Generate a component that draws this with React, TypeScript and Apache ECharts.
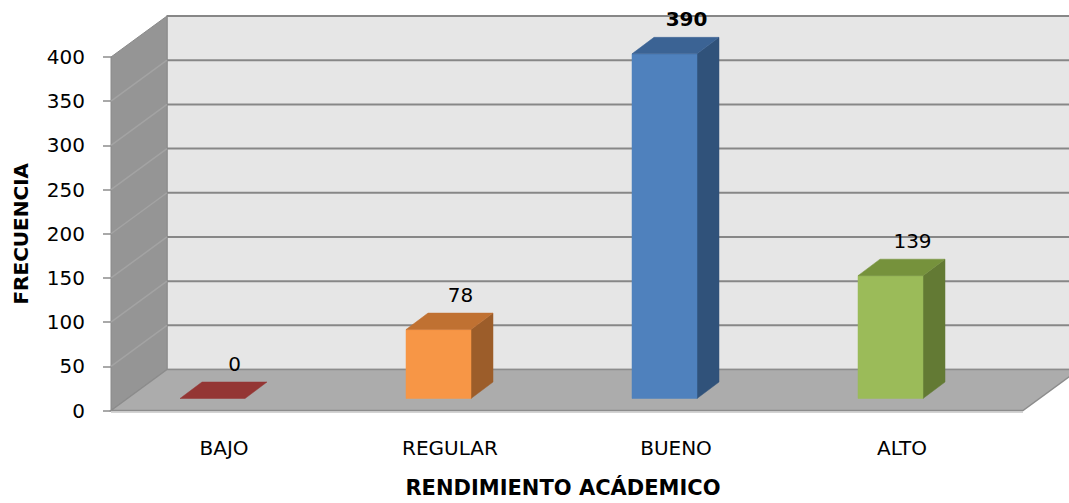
import React, { useEffect, useRef } from "react";
import * as echarts from "echarts";

const categories = ["BAJO", "REGULAR", "BUENO", "ALTO"];
const values = [0, 78, 390, 139];
const yTicks = [0, 50, 100, 150, 200, 250, 300, 350, 400];
const xTitle = "RENDIMIENTO ACÁDEMICO";
const yTitle = "FRECUENCIA";

const frontColors = ["#C0504D", "#F79646", "#4F81BD", "#9BBB59"];
const topColors = ["#943634", "#C07132", "#3B6394", "#76923C"];
const sideColors = ["#7A2B2A", "#9C5D2A", "#30527A", "#637A34"];
const boldLabel = [false, false, true, false];

const FONT = "DejaVu Sans";
const DX = 56;
const DY = -41;
const BAR_DX = 22;
const BAR_DY = -16.5;
const BAR_W = 65;
const BAR_SHIFT_X = -11.5;
const BAR_SHIFT_Y = -12;

export default function App() {
  const ref = useRef<HTMLDivElement>(null);
  useEffect(() => {
    if (!ref.current) return;
    const chart = echarts.init(ref.current, undefined, { renderer: "svg" });

    const roomRender = (params: any, api: any) => {
      const cs = params.coordSys;
      const left = cs.x;
      const top = cs.y;
      const right = cs.x + cs.width;
      const bottom = cs.y + cs.height;
      const W = api.getWidth();
      const children: any[] = [];
      children.push({
        type: "rect",
        shape: { x: left + DX, y: top + DY, width: W - left - DX + 10, height: bottom - top },
        style: { fill: "#E6E6E6", stroke: "#9A9A9A", lineWidth: 1.5 },
      });
      yTicks.forEach((v) => {
        if (v === 0) return;
        const y = api.coord([0, v])[1] + DY;
        children.push({
          type: "line",
          shape: { x1: left + DX, y1: y, x2: W + 5, y2: y },
          style: { stroke: "#878787", lineWidth: 2 },
        });
      });
      children.push({
        type: "polygon",
        shape: {
          points: [
            [left, bottom],
            [left, top],
            [left + DX, top + DY],
            [left + DX, bottom + DY],
          ],
        },
        style: { fill: "#959595", stroke: "#8A8A8A", lineWidth: 1 },
      });
      yTicks.forEach((v) => {
        if (v === 0 || v === 400) return;
        const y = api.coord([0, v])[1];
        children.push({
          type: "line",
          shape: { x1: left, y1: y, x2: left + DX, y2: y + DY },
          style: { stroke: "#A3A3A3", lineWidth: 1.5 },
        });
      });
      const fr = right + 8;
      children.push({
        type: "polygon",
        shape: {
          points: [
            [left, bottom],
            [left + DX, bottom + DY],
            [W + 60, bottom + DY],
            [fr + DX, bottom + DY],
            [fr, bottom],
          ],
        },
        style: { fill: "#ACACAC", stroke: "#8C8C8C", lineWidth: 1.5 },
      });
      children.push({
        type: "line",
        shape: { x1: left, y1: bottom + 1.5, x2: fr, y2: bottom + 1.5 },
        style: { stroke: "#C4C4C4", lineWidth: 1.5 },
      });
      return { type: "group", children };
    };

    const barRender = (params: any, api: any) => {
      const idx = api.value(0);
      const val = api.value(1);
      const p = api.coord([idx, val]);
      const b = api.coord([idx, 0]);
      const cx = p[0] + BAR_SHIFT_X;
      const x0 = cx - BAR_W / 2;
      const x1 = x0 + BAR_W;
      const yTop = p[1] + BAR_SHIFT_Y;
      const yBot = b[1] + BAR_SHIFT_Y;
      const i = params.dataIndex;
      const children: any[] = [];
      if (yBot - yTop > 0.5) {
        children.push({
          type: "polygon",
          shape: { points: [[x1, yTop], [x1 + BAR_DX, yTop + BAR_DY], [x1 + BAR_DX, yBot + BAR_DY], [x1, yBot]] },
          style: { fill: sideColors[i], stroke: sideColors[i], lineWidth: 0.5 },
        });
        children.push({
          type: "rect",
          shape: { x: x0, y: yTop, width: BAR_W, height: yBot - yTop },
          style: { fill: frontColors[i], stroke: frontColors[i], lineWidth: 0.5 },
        });
      }
      children.push({
        type: "polygon",
        shape: { points: [[x0, yTop], [x1, yTop], [x1 + BAR_DX, yTop + BAR_DY], [x0 + BAR_DX, yTop + BAR_DY]] },
        style: { fill: topColors[i], stroke: topColors[i], lineWidth: 0.5 },
      });
      children.push({
        type: "text",
        x: cx + 22,
        y: yTop + BAR_DY - 18,
        style: {
          text: String(values[i]),
          fill: "#000",
          fontSize: 20,
          fontFamily: FONT,
          fontWeight: boldLabel[i] ? "bold" : "normal",
          align: "center",
          verticalAlign: "middle",
        },
      });
      return { type: "group", children };
    };

    chart.setOption({
      animation: false,
      backgroundColor: "#ffffff",
      grid: { left: 111, top: 57, width: 904, height: 359, containLabel: false },
      xAxis: {
        type: "category",
        data: categories,
        axisLine: { show: false },
        axisTick: { show: false },
        axisLabel: { fontSize: 20, fontFamily: FONT, color: "#000", margin: 27 },
        splitLine: { show: false },
        name: xTitle,
        nameLocation: "middle",
        nameGap: 77,
        nameTextStyle: { fontSize: 21, fontFamily: FONT, fontWeight: "bold", color: "#000", verticalAlign: "middle" },
      },
      yAxis: {
        type: "value",
        min: 0,
        max: 400,
        interval: 50,
        axisLine: { show: true, lineStyle: { color: "#8C8C8C", width: 1 } },
        axisTick: { show: true, length: 8, lineStyle: { color: "#8C8C8C", width: 1.5 } },
        axisLabel: { fontSize: 20, fontFamily: FONT, color: "#000", margin: 26 },
        splitLine: { show: false },
        name: yTitle,
        nameLocation: "middle",
        nameGap: 90,
        nameTextStyle: { fontSize: 20, fontFamily: FONT, fontWeight: "bold", color: "#000", verticalAlign: "middle" },
      },
      series: [
        {
          type: "custom",
          name: "room",
          z: 1,
          silent: true,
          renderItem: roomRender,
          data: [[0, 0]],
          clip: false,
        },
        {
          type: "custom",
          name: "bars",
          z: 3,
          renderItem: barRender,
          data: values.map((v, i) => [i, v]),
          clip: false,
        },
      ],
    });
    return () => chart.dispose();
  }, []);
  return (
    <div
      ref={ref}
      style={{ position: "fixed", left: 0, top: 0, width: 1069, height: 503 }}
    />
  );
}
